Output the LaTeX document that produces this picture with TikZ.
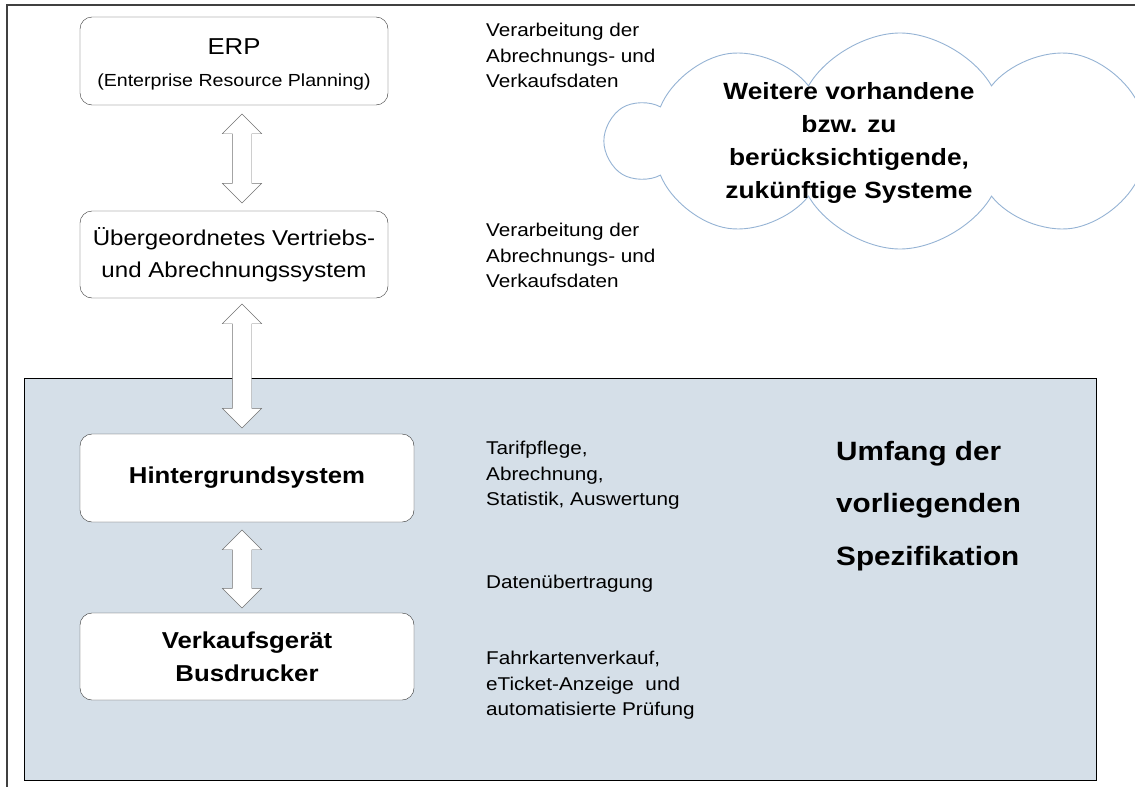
\documentclass[tikz,border=0pt]{standalone}
\usepackage{fontspec}
\setmainfont{Liberation Sans}[FakeStretch=1.12]
\usetikzlibrary{shapes.symbols,shapes.arrows}

\begin{document}
\begin{tikzpicture}[x=1pt,y=-1pt,
		sysbox/.style={draw=black!80, fill=white, rounded corners=12pt, align=center, inner sep=0pt},
		desc/.style={anchor=north west, align=left, inner sep=0pt, font=\fontsize{18.5}{25.5}\selectfont},
		updown/.style={double arrow, rotate=90, draw=black!55, fill=white, inner xsep=0pt, inner ysep=9.5pt,
			minimum width=39pt, double arrow head extend=10pt}]
		
		% Define colors
		\definecolor{scopecolor}{RGB}{213, 223, 232}
		\definecolor{cloudline}{RGB}{149, 179, 212}
		
		% Page and outer frame
		\useasboundingbox (0,0) rectangle (1135,787);
		\clip (0,0) rectangle (1135,787);
		\draw[black!75, line width=1.2pt] (7,787) -- (7,5) -- (1135,5);
		
		% Draw the scope of the specification
		\fill[scopecolor, draw=black, line width=1pt] (24,378) rectangle (1096,780);
		
		% Draw the cloud of further systems
		\node[cloud, cloud puffs=10, cloud puff arc=120, cloud ignores aspect, draw=cloudline, fill=white, line width=0.9pt,
			minimum width=584pt, minimum height=216pt] (cloud) at (900,141) {};
		\node[align=center, inner sep=0pt, font=\bfseries\fontsize{23.5}{33}\selectfont] (cloudtext) at (849,143)
			{Weitere vorhandene\\bzw. zu\\berücksichtigende,\\zukünftige Systeme};
		
		% Draw the system boxes
		\node[sysbox, minimum width=308pt, minimum height=88pt] (erp) at (234,61)
			{\fontsize{23}{26}\selectfont\rule{0pt}{22pt}ERP\\[18pt]\fontsize{17.5}{22}\selectfont (Enterprise Resource Planning)};
		\node[sysbox, minimum width=308pt, minimum height=87pt, font=\fontsize{21.5}{32}\selectfont] (vertrieb) at (234,254.5)
			{Übergeordnetes Vertriebs-\\und Abrechnungssystem};
		\node[sysbox, minimum width=334pt, minimum height=88pt, font=\bfseries\fontsize{23}{33}\selectfont] (hgs) at (247,478)
			{Hintergrundsystem};
		\node[sysbox, minimum width=334pt, minimum height=87pt, font=\bfseries\fontsize{23}{33}\selectfont] (vkg) at (247,656.5)
			{Verkaufsgerät\\Busdrucker};
		
		% Add arrows between the systems
		\node[updown, minimum height=89pt] (erpvertrieb) at (242,158.5) {};
		\node[updown, minimum height=124pt] (vertriebhgs) at (242,366) {};
		\node[updown, minimum height=78pt] (hgsvkg) at (242,569) {};
		
		% Add descriptions
		\node[desc] (d1) at (486,23) {Verarbeitung der\\Abrechnungs- und\\Verkaufsdaten};
		\node[desc] (d2) at (486,223) {Verarbeitung der\\Abrechnungs- und\\Verkaufsdaten};
		\node[desc] (d3) at (486,441) {Tarifpflege,\\Abrechnung,\\Statistik, Auswertung};
		\node[desc] (d4) at (486,575) {Datenübertragung};
		\node[desc] (d5) at (486,651) {Fahrkartenverkauf,\\eTicket-Anzeige~ und\\automatisierte Prüfung};
		
		% Add the scope label
		\node[anchor=north west, align=left, inner sep=0pt, font=\bfseries\fontsize{26.5}{52.5}\selectfont] (umfang) at (836,441)
			{Umfang der\\vorliegenden\\Spezifikation};
	\end{tikzpicture}
\end{document}
